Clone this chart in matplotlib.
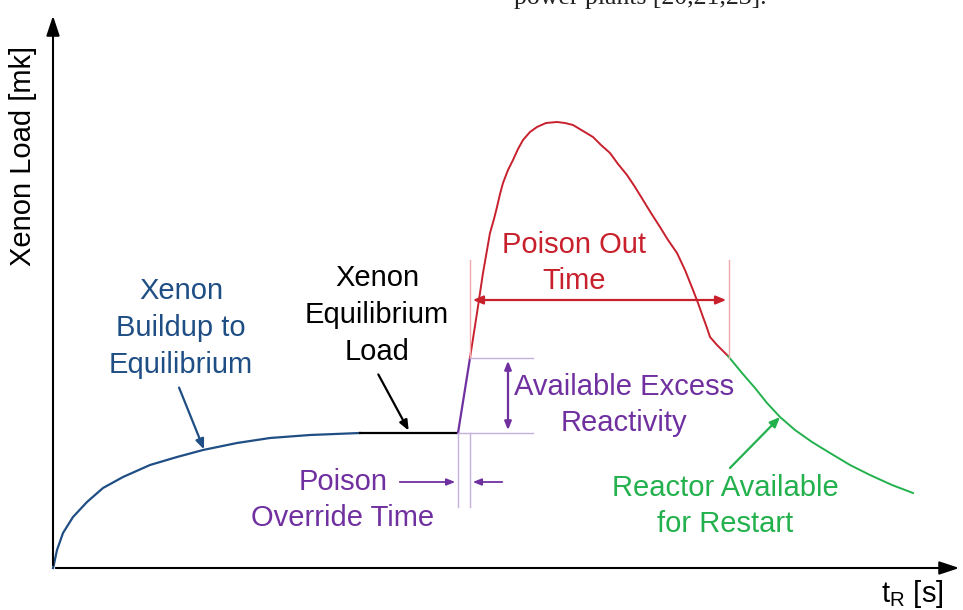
import matplotlib
matplotlib.use("Agg")
import matplotlib.pyplot as plt

# Xenon load curves (x: time since shutdown, y: load; arbitrary units)
buildup_t = [0, 1, 4, 10, 20, 34, 50, 70, 97, 124, 150, 184, 217, 257, 307]
buildup_y = [0, 4, 18, 35, 51, 66, 80, 91, 103, 111, 118, 125, 130, 133, 135]
equil_t = [307, 405]
equil_y = [135, 135]
override_t = [405, 417]
override_y = [135, 210]
peak_t = [417, 424, 430, 437, 441, 444, 447, 450, 455, 460, 465, 470, 477, 484, 493, 504,
          512, 520, 530, 540, 548, 557, 565, 574, 582, 590, 598, 607, 615, 624, 632,
          640, 645, 650, 654, 657, 664, 670, 675]
peak_y = [210, 255, 295, 335, 349, 361, 374, 385, 398, 408, 419, 428, 436, 441, 445, 446,
          445, 443, 437, 431, 423, 415, 404, 393, 381, 368, 355, 341, 328, 315, 298,
          278, 265, 251, 240, 231, 223, 217, 212]
restart_t = [675, 689, 702, 714, 727, 742, 759, 777, 797, 817, 839, 860]
restart_y = [212, 195, 180, 165, 151, 138, 126, 115, 103, 93, 83, 75]

BLUE = "#1f4e85"
RED = "#c8202c"
PURPLE = "#7030a0"
GREEN = "#22b14c"
PALE_RED = "#f2a9a9"
PALE_PURPLE = "#c6b1dd"
FS = 21
LS = 1.4
FONT = "Liberation Sans"

fig = plt.figure(figsize=(9.63, 6.1), dpi=100)
ax = fig.add_axes([0, 0, 1, 1])
ax.set_xlim(-53, 910)
ax.set_ylim(-42, 568)
ax.axis("off")

# axes with arrow heads
ax.annotate("", xy=(0, 555), xytext=(0, 0),
            arrowprops=dict(arrowstyle="-|>,head_length=1.2,head_width=0.4", color="black", lw=1.5))
ax.annotate("", xy=(909, 0), xytext=(0, 0),
            arrowprops=dict(arrowstyle="-|>,head_length=1.2,head_width=0.4", color="black", lw=1.5))
ax.text(-30, 412, "Xenon Load [mk]", rotation=90, ha="center", va="center",
        fontsize=FS, family=FONT)
ax.text(859, -26, r"t$_\mathregular{R}$ [s]", ha="center", va="center", fontsize=FS, family=FONT)

# top clipped caption of the source page
ax.text(587, 564, "power plants [20,21,23].", ha="center", va="baseline",
        fontsize=18.5, family="Liberation Serif", color="#222222")

ax.plot(buildup_t, buildup_y, color=BLUE, lw=1.6)
ax.plot(equil_t, equil_y, color="black", lw=1.6)
ax.plot(override_t, override_y, color=PURPLE, lw=1.6)
ax.plot(peak_t, peak_y, color=RED, lw=1.4)
ax.plot(restart_t, restart_y, color=GREEN, lw=1.4)

# guide lines
ax.plot([417, 417], [210, 308], color=PALE_RED, lw=1)
ax.plot([676, 676], [210, 308], color=PALE_RED, lw=1)
ax.plot([417, 480], [210, 210], color=PALE_PURPLE, lw=1)
ax.plot([405, 480], [135, 135], color=PALE_PURPLE, lw=1)
ax.plot([405, 405], [135, 61], color=PALE_PURPLE, lw=1)
ax.plot([417, 417], [135, 61], color=PALE_PURPLE, lw=1)

# annotations
ax.text(128, 240, "Xenon\nBuildup to\nEquilibrium", ha="center", va="center",
        fontsize=FS, family=FONT, color=BLUE, linespacing=LS)
ax.annotate("", xy=(152, 116), xytext=(125, 183),
            arrowprops=dict(arrowstyle="-|>,head_length=0.6,head_width=0.25", color=BLUE, lw=1.6))

ax.text(324, 253, "Xenon\nEquilibrium\nLoad", ha="center", va="center",
        fontsize=FS, family=FONT, color="black", linespacing=LS)
ax.annotate("", xy=(357, 135), xytext=(324, 196),
            arrowprops=dict(arrowstyle="-|>,head_length=0.6,head_width=0.25", color="black", lw=1.6))

ax.text(521, 305, "Poison Out\nTime", ha="center", va="center",
        fontsize=FS, family=FONT, color=RED, linespacing=LS)
ax.annotate("", xy=(417, 268), xytext=(676, 268),
            arrowprops=dict(arrowstyle="<|-|>,head_length=0.6,head_width=0.25", color=RED, lw=1.6))

ax.annotate("", xy=(455, 210), xytext=(455, 135),
            arrowprops=dict(arrowstyle="<|-|>,head_length=0.5,head_width=0.2", color=PURPLE, lw=1.6))
ax.text(571, 163, "Available Excess\nReactivity", ha="center", va="center",
        fontsize=FS, family=FONT, color=PURPLE, linespacing=LS)

ax.text(290, 68, "Poison\nOverride Time", ha="center", va="center",
        fontsize=FS, family=FONT, color=PURPLE, linespacing=LS)
ax.annotate("", xy=(405, 86), xytext=(344, 86),
            arrowprops=dict(arrowstyle="-|>,head_length=0.5,head_width=0.2", color=PURPLE, lw=1.3))
ax.annotate("", xy=(417, 86), xytext=(452, 86),
            arrowprops=dict(arrowstyle="-|>,head_length=0.5,head_width=0.2", color=PURPLE, lw=1.3))

ax.text(672, 62, "Reactor Available\nfor Restart", ha="center", va="center",
        fontsize=FS, family=FONT, color=GREEN, linespacing=LS)
ax.annotate("", xy=(729, 153), xytext=(675, 98),
            arrowprops=dict(arrowstyle="-|>,head_length=0.6,head_width=0.25", color=GREEN, lw=1.6))

fig.savefig("out.png", dpi=100)
